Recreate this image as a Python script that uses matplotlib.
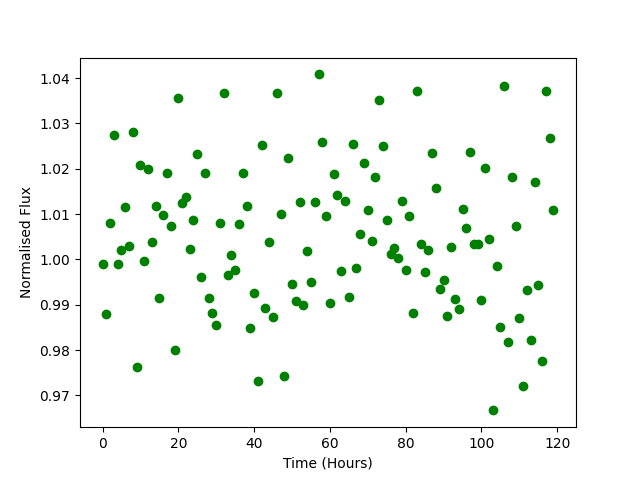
import matplotlib
matplotlib.use('Agg')
import matplotlib.pyplot as plt

# Flujo normalizado por hora
tiempo = list(range(120))
flujo = [
    0.9990, 0.9880, 1.0080, 1.0275, 0.9990, 1.0020, 1.0115, 1.0030, 1.0282, 0.9762,
    1.0208, 0.9997, 1.0200, 1.0038, 1.0117, 0.9915, 1.0098, 1.0190, 1.0073, 0.9800,
    1.0355, 1.0124, 1.0137, 1.0022, 1.0088, 1.0232, 0.9962, 1.0190, 0.9915, 0.9881,
    0.9855, 1.0080, 1.0366, 0.9966, 1.0009, 0.9977, 1.0078, 1.0190, 1.0117, 0.9849,
    0.9925, 0.9731, 1.0252, 0.9892, 1.0038, 0.9872, 1.0368, 1.0101, 0.9742, 1.0223,
    0.9945, 0.9908, 1.0126, 0.9900, 1.0018, 0.9951, 1.0126, 1.0408, 1.0258, 1.0095,
    0.9903, 1.0188, 1.0142, 0.9974, 1.0128, 0.9916, 1.0254, 0.9980, 1.0055, 1.0212,
    1.0110, 1.0040, 1.0181, 1.0352, 1.0249, 1.0086, 1.0011, 1.0025, 1.0003, 1.0128,
    0.9977, 1.0095, 0.9881, 1.0371, 1.0035, 0.9973, 1.0020, 1.0234, 1.0157, 0.9935,
    0.9955, 0.9875, 1.0027, 0.9912, 0.9891, 1.0112, 1.0070, 1.0237, 1.0035, 1.0033,
    0.9910, 1.0201, 1.0044, 0.9667, 0.9985, 0.9852, 1.0382, 0.9817, 1.0181, 1.0073,
    0.9871, 0.9720, 0.9932, 0.9823, 1.0170, 0.9943, 0.9777, 1.0371, 1.0267, 1.0108,
]

fig = plt.figure(figsize=(6.4, 4.8), dpi=100)
plt.scatter(tiempo, flujo, c='g')
plt.xlabel('Time (Hours)')
plt.ylabel('Normalised Flux')
plt.savefig('out.png')
